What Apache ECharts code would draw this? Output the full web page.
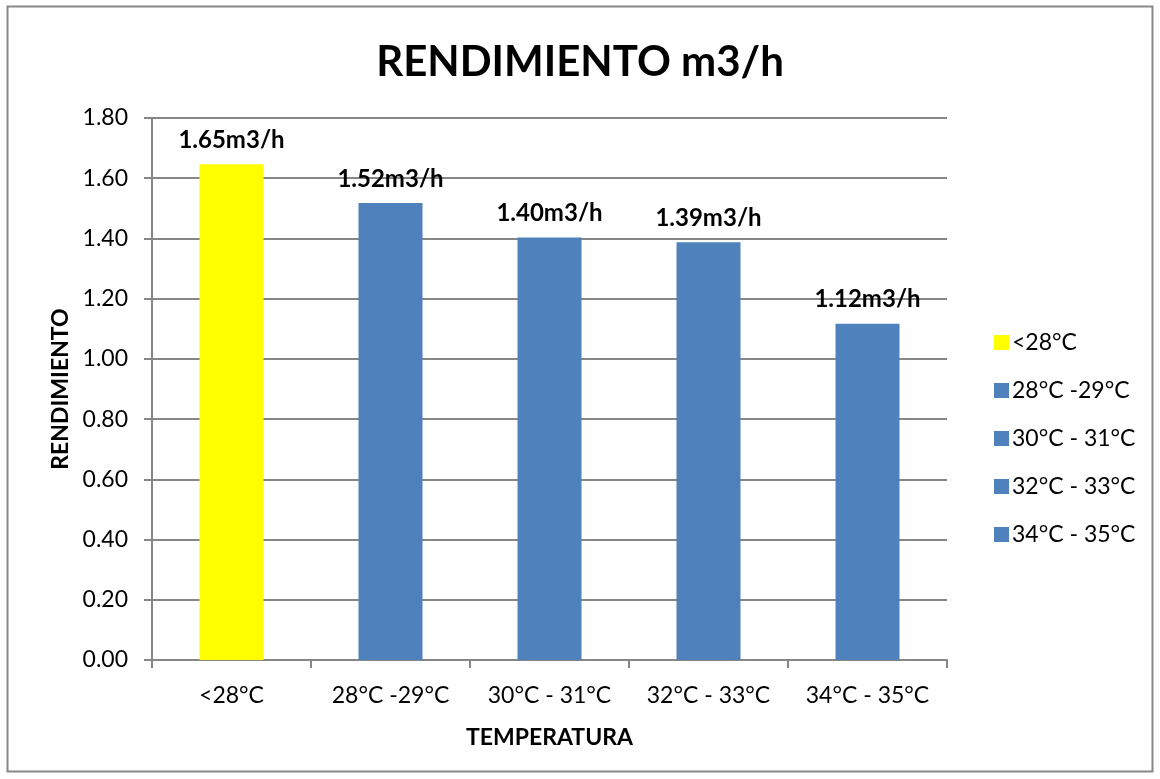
<!DOCTYPE html>
<html>
<head>
<meta charset="utf-8">
<script src="https://cdn.jsdelivr.net/npm/echarts@6/dist/echarts.min.js"></script>
<style>
html,body{margin:0;padding:0;background:#fff;}
#chart{width:1160px;height:779px;}
</style>
</head>
<body>
<div id="chart"></div>
<script>
const categories = ['<28°C', '28°C -29°C', '30°C - 31°C', '32°C - 33°C', '34°C - 35°C'];
const values = [1.646, 1.518, 1.403, 1.387, 1.117];
const colors = ['#FFFF00', '#4F81BD', '#4F81BD', '#4F81BD', '#4F81BD'];
const yTicks = { min: 0, max: 1.8, interval: 0.2 };

const FONT = 'Lato, "Open Sans", sans-serif';
const series = categories.map((name, i) => ({
  name: name,
  type: 'bar',
  stack: 'all',
  barWidth: 64,
  itemStyle: { color: colors[i] },
  data: values.map((v, j) => (j === i ? v : '-')),
  label: {
    show: true,
    position: 'top',
    distance: 12,
    fontFamily: FONT,
    fontWeight: 'bold',
    fontSize: 24,
    color: '#000',
    formatter: p => Number(p.value).toFixed(2) + 'm3/h'
  }
}));

const chart = echarts.init(document.getElementById('chart'), null, { renderer: 'canvas' });
chart.setOption({
  animation: false,
  backgroundColor: '#fff',
  textStyle: { fontFamily: FONT },
  graphic: [{
    type: 'rect',
    shape: { x: 7.5, y: 6.5, width: 1145, height: 765 },
    style: { fill: 'none', stroke: '#888888', lineWidth: 2 },
    silent: true
  }],
  title: {
    text: 'RENDIMIENTO m3/h',
    left: 'center',
    top: 36,
    textStyle: { fontFamily: FONT, fontWeight: 'bold', fontSize: 42, color: '#000' }
  },
  legend: {
    orient: 'vertical',
    left: 989,
    top: 326,
    itemWidth: 15,
    itemHeight: 15,
    itemGap: 25,
    icon: 'rect',
    textStyle: { fontFamily: FONT, fontSize: 23, color: '#000', padding: [0, 0, 0, -2] },
    data: categories
  },
  grid: { left: 152, right: 213, top: 118, bottom: 119, containLabel: false },
  xAxis: {
    type: 'category',
    data: categories,
    name: 'TEMPERATURA',
    nameLocation: 'middle',
    nameGap: 66,
    nameTextStyle: { fontFamily: FONT, fontWeight: 'bold', fontSize: 23, color: '#000' },
    axisLine: { lineStyle: { color: '#868686', width: 2 } },
    axisTick: { show: true, alignWithLabel: false, length: 8, lineStyle: { color: '#868686', width: 2 } },
    axisLabel: { fontFamily: FONT, fontSize: 23, color: '#000', margin: 24, interval: 0 }
  },
  yAxis: {
    type: 'value',
    min: yTicks.min,
    max: yTicks.max,
    interval: yTicks.interval,
    name: 'RENDIMIENTO',
    nameLocation: 'middle',
    nameGap: 80,
    nameRotate: 90,
    nameTextStyle: { fontFamily: FONT, fontWeight: 'bold', fontSize: 23, color: '#000' },
    axisLine: { show: true, lineStyle: { color: '#868686', width: 2 } },
    axisTick: { show: true, inside: false, length: 8, lineStyle: { color: '#868686', width: 2 } },
    axisLabel: { fontFamily: FONT, fontSize: 23, color: '#000', margin: 24, formatter: v => v.toFixed(2) },
    splitLine: { show: true, lineStyle: { color: '#868686', width: 2 } }
  },
  series: series
});
</script>
</body>
</html>
